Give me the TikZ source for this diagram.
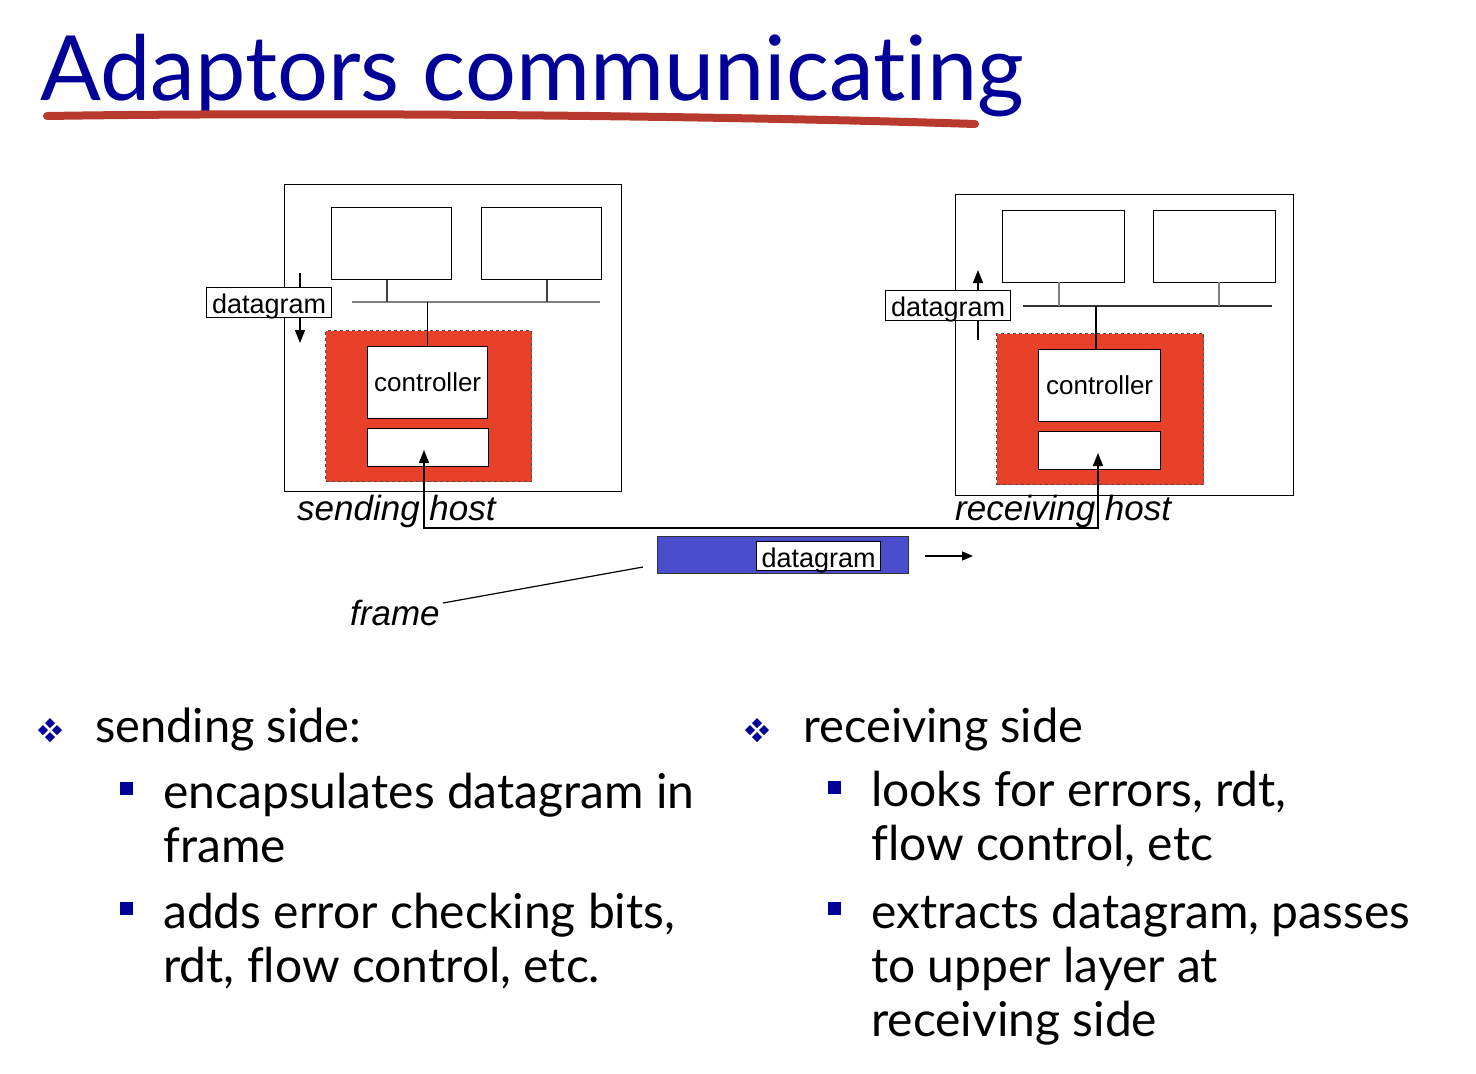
\documentclass[tikz,border=0pt]{standalone}
\usepackage{fontspec}
\setmainfont{Liberation Sans}
\newfontfamily\gill[Ligatures=NoCommon]{Lato}
\usetikzlibrary{arrows.meta,calc}
\definecolor{titleblue}{HTML}{000099}
\definecolor{ulred}{HTML}{B83A2E}
\definecolor{adred}{HTML}{E8412A}
\definecolor{frameblue}{HTML}{4A4ECC}
\definecolor{busgray}{HTML}{808080}
\tikzset{
  box/.style={draw=black,line width=1.4pt,fill=white,inner sep=0pt},
  lbl/.style={inner sep=0pt,font=\fontsize{26}{30}\selectfont},
  dlbl/.style={box,line width=1.2pt,inner sep=0pt,text height=22pt,text depth=0pt,font=\fontsize{27}{30}\selectfont},
  adapter/.style={draw=black!70,dashed,line width=1pt,fill=adred,inner sep=0pt},
  bus/.style={draw=busgray,line width=2pt},
  tick/.style={draw=black!75,line width=1.6pt},
  arr/.style={line width=1.4pt,-{Triangle[width=10pt,length=13pt]}},
  host/.style={inner sep=0pt,font=\fontsize{35}{40}\selectfont\itshape,anchor=base west},
  hd/.style={inner sep=0pt,anchor=base west,font=\gill\fontsize{47}{54}\selectfont},
  bt/.style={inner sep=0pt,anchor=base west,font=\gill\fontsize{48}{54}\selectfont},
  sq/.style={fill=titleblue,minimum size=13pt,inner sep=0pt}
}
\newcommand{\fourdiamond}[2]{%
  \foreach \dx/\dy in {0/-7,0/7,-7/0,7/0}{
    \fill[titleblue] ($(#1,#2)+(\dx,\dy)+(0,-5)$) -- ++(5,5) -- ++(-5,5) -- ++(-5,-5) -- cycle;}
}
\begin{document}
\begin{tikzpicture}[x=1pt,y=-1pt]
\useasboundingbox[fill=white] (0,0) rectangle (1476,1074);

% title
\node[inner sep=0pt,anchor=base west,text=titleblue,font=\gill\fontsize{90}{100}\selectfont] (title) at (40,100) {Adaptors communicating};
\draw[ulred,line width=8pt,line cap=round] (47,116) .. controls (300,112) and (700,115) .. (975,124);

% ---------------- sending host
\node[box,minimum width=337pt,minimum height=307pt,anchor=north west] (sh) at (284,184) {};
\node[box,minimum width=120pt,minimum height=72pt,anchor=north west] (sm1) at (331,207) {};
\node[box,minimum width=120pt,minimum height=72pt,anchor=north west] (sm2) at (481,207) {};
\coordinate (sbl) at (352,302);
\coordinate (sbr) at (600,302);
\draw[bus] (sbl) -- (sbr);
\draw[tick] (sm1.south -| 387,0) -- (387,302);
\draw[tick] (sm2.south -| 547,0) -- (547,302);
\node[adapter,minimum width=206pt,minimum height=151pt,anchor=north west] (sa) at (325,330) {};
\node[box,minimum width=120pt,minimum height=72pt,anchor=north west,lbl] (sc) at (367,346) {controller};
\node[box,minimum width=121pt,minimum height=38pt,anchor=north west] (sl) at (367,428) {};
\draw[line width=1.4pt] (sc.north) -- (sc.north |- sbl);
\coordinate (sdA) at (300,273);
\coordinate (sdB) at (300,343);
\draw[arr] (sdA) -- (sdB);
\node[dlbl,minimum width=125pt,minimum height=30pt,anchor=north west] (sd) at (206,287) {datagram};
\node[host] (shl) at (297,520) {sending host};

% ---------------- receiving host
\node[box,minimum width=338pt,minimum height=301pt,anchor=north west] (rh) at (955,194) {};
\node[box,minimum width=122pt,minimum height=72pt,anchor=north west] (rm1) at (1002,210) {};
\node[box,minimum width=122pt,minimum height=72pt,anchor=north west] (rm2) at (1153,210) {};
\coordinate (rbl) at (1023,306);
\coordinate (rbr) at (1272,306);
\draw[bus,draw=black!80,line width=1.8pt] (rbl) -- (rbr);
\draw[tick,draw=busgray] (1059,282) -- (1059,306);
\draw[tick,draw=busgray] (1219,282) -- (1219,306);
\node[adapter,minimum width=207pt,minimum height=151pt,anchor=north west] (ra) at (996,333) {};
\node[box,minimum width=122pt,minimum height=72pt,anchor=north west,lbl] (rc) at (1038,349) {controller};
\node[box,minimum width=122pt,minimum height=38pt,anchor=north west] (rl) at (1038,431) {};
\draw[line width=1.4pt] (rc.north -| 1096,0) -- (1096,306);
\coordinate (rdA) at (978,340);
\coordinate (rdB) at (978,270);
\draw[arr] (rdA) -- (rdB);
\node[dlbl,minimum width=125pt,minimum height=30pt,anchor=north west] (rd) at (885,290) {datagram};
\node[host] (rhl) at (955,520) {receiving host};

% ---------------- link between adaptors
\coordinate (ltip) at (424,450);
\coordinate (rtip) at (1098,453);
\coordinate (lbot) at (424,528);
\draw[line width=1.4pt,{Triangle[width=10pt,length=13pt]}-{Triangle[width=10pt,length=13pt]}] (ltip) -- (lbot) -| (rtip);

% ---------------- frame
\node[draw=black!80,line width=1.4pt,fill=frameblue,minimum width=251pt,minimum height=37pt,anchor=north west,inner sep=0pt] (fr) at (657,536) {};
\node[dlbl,minimum width=124pt,minimum height=29pt,anchor=north west] (frd) at (756,541) {datagram};
\coordinate (fa1) at (925,556);
\coordinate (fa2) at (973,556);
\draw[line width=1.4pt,-{Triangle[width=9pt,length=11pt]}] (fa1) -- (fa2);
\node[host] (frl) at (350,625) {frame};
\coordinate (fl1) at (443,603);
\coordinate (fl2) at (643,567);
\draw[line width=1.2pt] (fl1) -- (fl2);

% ---------------- bullets left
\fourdiamond{50}{730}
\node[hd] (l0) at (95,742) {sending side:};
\node[sq] (lb1) at (126,788) {};
\node[bt] (l1) at (163,808) {encapsulates datagram in};
\node[bt] (l2) at (163,862) {frame};
\node[sq] (lb2) at (126,908) {};
\node[bt] (l3) at (163,928) {adds error checking bits,};
\node[bt] (l4) at (163,982) {rdt, flow control, etc.};

% ---------------- bullets right
\fourdiamond{757}{730}
\node[hd] (r0) at (803,742) {receiving side};
\node[sq] (rb1) at (834,787) {};
\node[bt] (r1) at (871,806) {looks for errors, rdt,};
\node[bt] (r2) at (871,860) {flow control, etc};
\node[sq] (rb2) at (834,908) {};
\node[bt] (r3) at (871,928) {extracts datagram, passes};
\node[bt] (r4) at (871,982) {to upper layer at};
\node[bt] (r5) at (871,1036) {receiving side};
\end{tikzpicture}
\end{document}
